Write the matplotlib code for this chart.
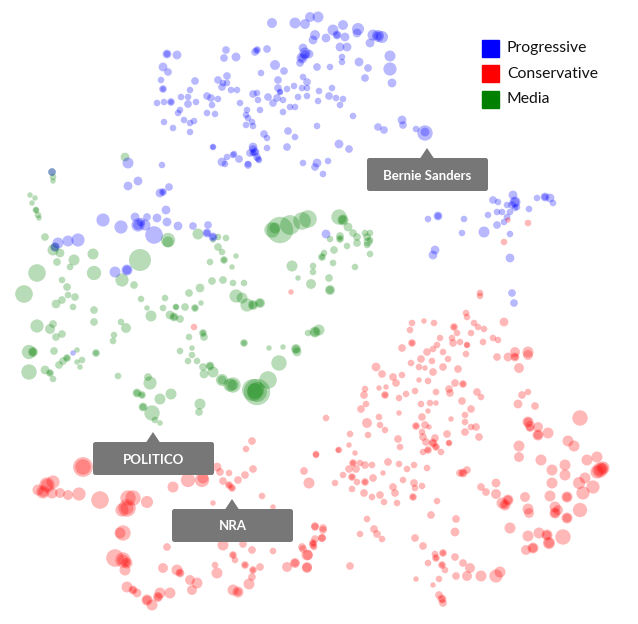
import matplotlib
matplotlib.use("Agg")
import matplotlib.pyplot as plt
from matplotlib.patches import FancyBboxPatch, Polygon, Rectangle
import numpy as np

# embedding coordinates (x, y, weight)
progressive = [
    (272, 23, 4.5), (295, 23, 5), (305, 24, 4.5), (310, 17, 4.5), (318, 17, 5), (315, 35, 4.5),
    (313, 40, 4), (326, 38, 4), (333, 30, 5), (337, 35, 4), (337, 35, 3), (343, 25, 4.5),
    (345, 37, 4), (340, 47, 4), (347, 47, 4), (358, 29, 5.5), (357, 33, 4), (373, 35, 5),
    (378, 36, 5.5), (382, 37, 5.5), (378, 36, 4), (370, 43, 4), (390, 56, 5), (390, 69, 6),
    (392, 83, 4), (365, 78, 3.5), (368, 68, 3.5), (359, 62, 4), (342, 57, 3), (342, 62, 3),
    (330, 67, 3), (317, 67, 3.5), (303, 48, 4), (305, 53, 5), (305, 55, 4), (302, 58, 5),
    (302, 58, 3.5), (309, 54, 4), (300, 63, 3.5), (275, 65, 4.5), (284, 71, 3.5), (261, 73, 3),
    (257, 50, 3.5), (257, 50, 2.5), (255, 52, 3.5), (267, 49, 3.5), (226, 50, 3.5), (224, 58, 3.5),
    (236, 57, 4), (167, 54, 4), (167, 54, 3), (177, 55, 4), (163, 67, 4), (168, 72, 3.5),
    (161, 80, 3), (163, 89, 3.5), (163, 89, 2.5), (195, 81, 3.5), (218, 80, 3.5), (227, 76, 3.5),
    (223, 83, 3), (227, 83, 3), (222, 87, 3.5), (231, 90, 3), (237, 90, 3), (190, 90, 3),
    (181, 97, 3), (188, 97, 3), (157, 103, 3), (164, 102, 3), (171, 102, 3.5), (171, 102, 2.5),
    (188, 104, 3.5), (196, 102, 3), (207, 96, 3.5), (211, 98, 3.5), (218, 99, 3), (212, 105, 3),
    (180, 110, 3), (178, 113, 3), (207, 113, 3), (215, 114, 3), (164, 122, 3), (184, 120, 3),
    (190, 123, 3), (194, 121, 3), (173, 128, 3), (190, 132, 3), (240, 103, 3), (253, 94, 3.5),
    (257, 93, 3), (258, 100, 3), (247, 110, 3), (246, 115, 3), (248, 118, 3), (252, 122, 3),
    (246, 125, 3), (253, 126, 3), (260, 110, 3), (268, 97, 3.5), (273, 103, 3.5), (278, 80, 3.5),
    (278, 88, 3.5), (280, 92, 3), (280, 92, 2.5), (287, 89, 3), (294, 86, 3), (283, 100, 3),
    (277, 98, 3.5), (290, 107, 3), (295, 107, 3), (283, 112, 3), (303, 77, 3), (307, 82, 3.5),
    (302, 88, 3), (307, 88, 3), (298, 97, 3), (307, 96, 3), (319, 91, 3), (318, 101, 3),
    (332, 88, 3), (329, 96, 3.5), (336, 98, 3), (343, 99, 3), (340, 105, 3), (353, 116, 3),
    (317, 126, 3), (288, 131, 3.5), (295, 137, 3), (287, 147, 3.5), (264, 134, 3.5), (267, 138, 3),
    (267, 148, 3), (253, 147, 4), (253, 149, 3.5), (255, 152, 4), (255, 152, 3), (250, 153, 3.5),
    (257, 157, 3.5), (259, 160, 3), (213, 147, 3), (213, 147, 2.5), (222, 162, 4), (227, 157, 3),
    (234, 154, 3), (239, 159, 3.5), (225, 164, 3), (248, 164, 3), (162, 165, 3), (303, 163, 3),
    (317, 163, 4), (315, 167, 3.5), (328, 161, 3), (323, 174, 3), (339, 144, 4), (349, 149, 3.5),
    (378, 127, 3.5), (384, 130, 3.5), (402, 120, 4), (403, 125, 3.5), (416, 129, 3),
    (425, 133, 7), (425, 132, 4), (233, 155, 3), (248, 165, 3.5), (253, 153, 3), (258, 159, 3),
    # right group
    (493, 200, 3.5), (498, 202, 3), (513, 195, 4), (515, 202, 5), (515, 202, 4), (512, 205, 3.5),
    (507, 205, 3), (517, 207, 3), (510, 212, 3), (497, 212, 3), (502, 212, 3), (488, 215, 3),
    (507, 217, 3), (504, 222, 3), (515, 208, 3), (545, 197, 4), (545, 197, 3), (550, 198, 4),
    (553, 203, 3), (537, 198, 3), (529, 209, 3), (497, 225, 3.5), (484, 232, 5), (464, 219, 3),
    (462, 233, 3), (438, 216, 4), (438, 216, 3), (428, 219, 3), (510, 234, 3), (435, 250, 4),
    (433, 255, 4), (510, 258, 4), (512, 293, 3.5), (514, 303, 3.5),
    # inside the media region
    (52, 172, 3.5), (128, 163, 5), (128, 186, 4), (138, 181, 4), (160, 193, 4), (163, 192, 3.5),
    (163, 192, 2.5), (169, 187, 3.5), (166, 210, 4), (103, 220, 6), (121, 227, 6), (135, 217, 4),
    (138, 225, 6), (138, 225, 4.5), (141, 222, 4), (147, 217, 3.5), (145, 225, 5), (154, 235, 8),
    (157, 218, 4), (167, 222, 4), (178, 226, 4), (193, 226, 3.5), (208, 225, 3.5), (207, 233, 4),
    (207, 233, 3), (213, 237, 4), (213, 237, 3), (78, 240, 6), (68, 241, 5), (58, 243, 5),
    (55, 247, 4), (115, 272, 5), (127, 270, 5), (127, 270, 4), (73, 353, 2.5), (326, 234, 4),
]

conservative = [
    (480, 293, 3), (480, 296, 3), (466, 313, 3), (467, 317, 3), (474, 323, 3), (478, 327, 3),
    (484, 329, 3), (454, 327, 3.5), (454, 327, 2.5), (457, 333, 3), (471, 333, 3), (483, 342, 3),
    (493, 338, 3), (498, 340, 3), (504, 322, 4), (412, 323, 3), (424, 321, 2.5), (434, 323, 3),
    (410, 330, 3), (412, 343, 3.5), (412, 343, 2.5), (402, 348, 3.5), (440, 338, 3), (452, 338, 3),
    (453, 343, 3.5), (460, 342, 3), (467, 345, 3), (467, 345, 2.5), (437, 345, 3), (433, 349, 3),
    (427, 352, 3.5), (443, 352, 3), (466, 354, 3), (515, 352, 4.5), (528, 352, 5), (497, 357, 3.5),
    (508, 357, 4), (515, 357, 4), (515, 357, 3), (519, 368, 4.5), (528, 355, 4.5), (421, 359, 3.5),
    (411, 363, 3), (432, 361, 3), (448, 359, 3), (419, 367, 3), (425, 368, 2.5), (433, 372, 3.5),
    (443, 367, 3.5), (458, 369, 3.5), (376, 367, 4), (382, 374, 3.5), (393, 377, 3.5), (402, 375, 3),
    (396, 383, 3.5), (419, 380, 2.5), (428, 381, 3), (455, 383, 3.5), (463, 384, 3.5), (463, 384, 2.5),
    (365, 389, 3), (364, 395, 3.5), (379, 388, 2.5), (386, 387, 2.5), (385, 395, 3.5), (385, 395, 2.5),
    (399, 398, 3), (406, 394, 3), (415, 391, 3), (436, 392, 3), (449, 389, 3.5), (450, 393, 3.5),
    (477, 392, 3.5), (481, 397, 3), (462, 401, 3.5), (421, 404, 3), (430, 403, 3), (436, 403, 2.5),
    (518, 404, 4), (528, 392, 3), (522, 395, 3.5), (535, 406, 3.5), (361, 409, 3.5), (366, 404, 3),
    (399, 413, 2.5), (422, 417, 3.5), (428, 411, 2.5), (471, 409, 3.5), (465, 415, 3), (326, 418, 3),
    (379, 417, 3), (380, 425, 3), (367, 423, 4.5), (385, 430, 3), (416, 426, 3.5), (416, 426, 2.5),
    (425, 425, 3.5), (422, 432, 3), (429, 427, 2.5), (451, 419, 2.5), (465, 422, 3), (471, 427, 3),
    (476, 427, 3.5), (465, 432, 3.5), (447, 434, 3.5), (479, 437, 3.5), (528, 422, 5), (528, 422, 4),
    (530, 426, 4.5), (530, 428, 3.5), (538, 427, 4.5), (538, 435, 5), (538, 435, 4), (548, 433, 5),
    (580, 418, 7), (350, 434, 3), (368, 435, 3), (349, 445, 2.5), (398, 439, 3.5), (400, 447, 3),
    (423, 437, 3.5), (426, 442, 3.5), (435, 438, 3.5), (433, 443, 4), (433, 443, 3), (436, 447, 3.5),
    (436, 447, 2.5), (428, 450, 3.5), (428, 450, 2.5), (423, 452, 3), (449, 443, 3), (449, 443, 2.5),
    (441, 452, 3), (339, 450, 3), (355, 453, 2.5), (316, 455, 3), (519, 446, 5), (519, 457, 4.5),
    (541, 460, 5), (568, 441, 5), (574, 446, 5), (388, 462, 3.5), (353, 463, 3.5), (353, 463, 2.5),
    (360, 463, 3), (349, 469, 3.5), (356, 469, 3.5), (365, 465, 3.5), (372, 465, 3), (352, 477, 3.5),
    (352, 477, 2.5), (343, 475, 3), (365, 482, 3.5), (365, 482, 2.5), (373, 478, 3.5), (357, 482, 3),
    (383, 473, 2.5), (399, 464, 3), (407, 469, 3), (414, 465, 3), (427, 468, 3), (304, 471, 3.5),
    (309, 483, 5), (335, 483, 3), (352, 489, 3), (364, 493, 3.5), (403, 480, 3), (414, 483, 3.5),
    (415, 488, 3), (422, 486, 3), (372, 497, 3), (380, 495, 3.5), (384, 502, 3), (393, 487, 3.5),
    (395, 493, 3.5), (397, 503, 3), (413, 497, 3.5), (413, 497, 2.5), (437, 501, 3), (460, 473, 3.5),
    (463, 473, 4), (463, 473, 3), (467, 470, 3.5), (481, 487, 3.5), (486, 492, 3.5), (496, 483, 4),
    (496, 494, 4.5), (502, 503, 5), (508, 500, 5), (508, 500, 4), (505, 505, 5), (505, 505, 3.5),
    (525, 497, 4.5), (528, 509, 5), (529, 513, 4.5), (552, 470, 5), (565, 465, 5), (565, 475, 5),
    (552, 483, 5), (550, 496, 5), (567, 497, 5), (567, 497, 4), (579, 483, 5.5), (585, 478, 5),
    (583, 493, 6), (593, 487, 6), (587, 460, 5), (597, 457, 5), (600, 470, 7), (600, 470, 5.5),
    (603, 468, 6), (603, 468, 4.5), (597, 472, 6), (555, 507, 5), (555, 513, 5), (555, 513, 4),
    (567, 518, 5), (567, 518, 4), (558, 510, 4.5), (580, 510, 6.5), (510, 528, 5), (528, 536, 5),
    (539, 533, 5), (547, 535, 5), (547, 535, 4), (549, 543, 5.5), (549, 543, 4.5), (563, 537, 7),
    (533, 548, 5), (533, 548, 4), (526, 550, 4.5), (367, 519, 3), (360, 534, 3), (374, 529, 3.5),
    (377, 534, 3.5), (382, 539, 3), (431, 515, 3.5), (456, 519, 3.5), (455, 532, 4), (415, 538, 3.5),
    (423, 546, 3.5), (428, 563, 3), (435, 554, 3), (443, 553, 3.5), (443, 553, 2.5), (436, 558, 3.5),
    (436, 558, 2.5), (442, 565, 3.5), (442, 565, 2.5), (445, 570, 3), (455, 557, 3.5), (463, 563, 3.5),
    (470, 568, 4.5), (439, 579, 3), (433, 585, 2.5), (456, 576, 3.5), (467, 576, 4.5), (481, 576, 5),
    (496, 576, 6), (500, 572, 5), (416, 579, 2.5), (350, 566, 3.5), (439, 595, 3.5), (442, 599, 4),
    (442, 599, 3), (443, 603, 3.5), (315, 527, 3.5), (323, 530, 3.5), (322, 538, 3.5), (313, 543, 3.5),
    (313, 543, 2.5), (314, 547, 3), (307, 555, 5), (307, 567, 4.5), (302, 547, 3.5),
    # left arc
    (83, 467, 9), (83, 467, 7), (47, 485, 7), (47, 485, 5.5), (43, 492, 6), (43, 492, 4.5),
    (53, 482, 6), (38, 490, 5), (52, 493, 5), (60, 493, 4.5), (68, 495, 4.5), (79, 494, 6),
    (100, 500, 8), (128, 498, 7), (133, 498, 7), (127, 508, 8), (127, 508, 6), (122, 510, 6),
    (147, 502, 5.5), (123, 533, 7), (120, 533, 5), (115, 558, 8), (123, 560, 7), (123, 560, 5),
    (127, 563, 5), (127, 563, 3.5), (125, 570, 5), (127, 587, 5), (133, 590, 4), (133, 590, 3),
    (137, 593, 4), (147, 600, 5), (147, 600, 4), (152, 605, 5), (160, 593, 5), (170, 593, 5),
    (158, 597, 4.5), (158, 597, 3.5), (163, 568, 4.5), (177, 570, 5), (180, 573, 4), (180, 573, 3),
    (167, 547, 3.5), (190, 580, 4.5), (197, 583, 5), (192, 590, 4.5), (173, 487, 5), (188, 480, 6.5),
    (202, 480, 6.5), (203, 478, 5), (217, 467, 4), (220, 472, 3.5), (229, 473, 3), (223, 481, 3.5),
    (229, 485, 3.5), (229, 485, 2.5), (232, 488, 3.5), (232, 488, 2.5), (238, 480, 3.5), (245, 475, 3.5),
    (253, 469, 3.5), (246, 449, 3), (252, 441, 3.5), (213, 503, 2.5), (262, 496, 3), (273, 507, 2.5),
    (316, 454, 3), (338, 450, 2.5), (223, 545, 5), (243, 544, 3.5), (252, 550, 3.5), (233, 555, 3.5),
    (233, 555, 2.5), (235, 560, 3), (245, 565, 3.5), (245, 565, 2.5), (253, 570, 3.5), (253, 570, 2.5),
    (260, 567, 3.5), (252, 577, 3.5), (273, 551, 3), (215, 565, 3), (217, 573, 5), (233, 590, 5),
    (238, 592, 5), (238, 592, 3.5), (249, 584, 5), (287, 567, 4.5), (295, 563, 4.5), (295, 563, 3.5),
    (307, 568, 4.5), (303, 549, 3.5), (308, 555, 4.5), (313, 545, 3.5), (315, 539, 3.5), (322, 538, 3.5),
    (315, 526, 3.5), (323, 528, 3.5),
    # strays near the other groups
    (291, 292, 2.5), (194, 327, 3), (508, 220, 2.5), (528, 223, 3), (504, 242, 3),
]

media = [
    (52, 172, 3.5), (53, 177, 3), (53, 181, 2.5), (125, 157, 4), (30, 195, 2.5), (35, 198, 2.5),
    (32, 203, 2.5), (36, 210, 3), (36, 210, 2.5), (38, 215, 3), (39, 218, 2.5), (45, 237, 3.5),
    (53, 250, 5), (55, 247, 4), (60, 253, 4), (57, 262, 3.5), (74, 260, 5), (70, 267, 3),
    (93, 254, 5), (37, 273, 8), (94, 273, 6.5), (122, 280, 6), (140, 260, 10), (134, 285, 3.5),
    (168, 240, 6.5), (168, 242, 5), (198, 234, 5), (218, 237, 3), (226, 238, 3), (218, 247, 3.5),
    (222, 252, 3), (224, 260, 3.5), (224, 260, 2.5), (210, 262, 3), (236, 256, 2.5), (232, 267, 2.5),
    (213, 240, 2.5), (62, 280, 3), (67, 287, 3.5), (68, 295, 3), (75, 297, 3.5), (73, 307, 3),
    (62, 300, 3.5), (56, 304, 4), (24, 294, 8), (141, 299, 3), (147, 308, 2.5), (151, 316, 5),
    (165, 298, 3), (163, 308, 3), (176, 307, 3), (176, 307, 2.5), (185, 307, 3.5), (195, 308, 3.5),
    (195, 308, 2.5), (201, 303, 2.5), (170, 315, 4), (174, 317, 4), (174, 317, 3), (180, 319, 3.5),
    (189, 293, 3.5), (200, 288, 4), (212, 281, 3.5), (223, 280, 3.5), (233, 283, 3), (244, 283, 3),
    (236, 296, 6), (242, 298, 5), (247, 305, 6), (253, 305, 4.5), (253, 305, 3.5), (260, 303, 4.5),
    (260, 303, 3.5), (37, 326, 6), (50, 329, 4.5), (53, 324, 3.5), (56, 337, 3.5), (62, 334, 3.5),
    (94, 310, 3.5), (94, 322, 3.5), (121, 322, 3), (126, 328, 4.5), (114, 335, 3), (113, 341, 3),
    (29, 352, 6.5), (33, 352, 4.5), (33, 352, 3.5), (54, 351, 3.5), (67, 358, 3.5), (67, 358, 2.5),
    (63, 361, 3.5), (59, 365, 3.5), (77, 350, 2.5), (77, 362, 2.5), (82, 360, 3), (80, 367, 2.5),
    (96, 353, 3.5), (96, 353, 2.5), (29, 372, 7), (45, 370, 4), (50, 373, 3.5), (50, 373, 2.5),
    (53, 379, 3), (118, 376, 3), (148, 377, 3.5), (150, 383, 6), (137, 393, 4), (137, 393, 3),
    (142, 395, 3.5), (142, 395, 2.5), (143, 407, 4), (143, 407, 3), (152, 413, 7), (160, 399, 5),
    (171, 394, 5), (200, 404, 5), (199, 412, 3.5), (160, 423, 2.5), (155, 420, 3), (180, 351, 3),
    (189, 337, 3), (192, 348, 2.5), (188, 361, 3), (197, 361, 3), (192, 355, 3), (203, 333, 3.5),
    (203, 333, 2.5), (204, 337, 3.5), (244, 343, 3.5), (244, 343, 2.5), (269, 348, 2.5),
    (283, 347, 2.5), (296, 349, 4.5), (296, 349, 3.5), (297, 352, 4), (279, 363, 7), (268, 380, 8),
    (257, 392, 12), (257, 392, 9), (253, 390, 10), (255, 391, 7), (233, 385, 7), (233, 385, 5),
    (230, 385, 6), (222, 380, 5.5), (222, 380, 4), (213, 372, 5), (210, 366, 4), (210, 366, 3),
    (204, 374, 4), (203, 367, 3.5), (315, 332, 5), (315, 332, 4), (319, 330, 5), (308, 333, 3),
    (280, 230, 12), (290, 225, 9), (302, 221, 8), (308, 219, 8), (272, 230, 7), (275, 228, 5),
    (339, 217, 7), (343, 220, 5), (343, 220, 4), (348, 227, 4), (340, 236, 3.5), (353, 233, 3.5),
    (357, 237, 3.5), (365, 233, 3), (370, 233, 3), (368, 242, 4), (347, 246, 3), (340, 239, 3.5),
    (340, 239, 2.5), (330, 239, 3), (357, 243, 3.5), (334, 250, 3.5), (324, 253, 3), (322, 257, 3.5),
    (322, 257, 2.5), (333, 263, 3), (355, 267, 3), (313, 266, 3), (313, 272, 3), (292, 266, 5),
    (298, 278, 2.5), (311, 284, 4.5), (329, 278, 3.5), (330, 290, 4.5), (330, 290, 3.5), (370, 254, 3),
    (367, 237, 3.5), (370, 240, 3), (367, 245, 3),
]

legend_labels = ["Progressive", "Conservative", "Media"]
legend_colors = ["#0000ff", "#ff0000", "#008000"]
callouts = [("Bernie Sanders", 427, 148), ("POLITICO", 153, 432), ("NRA", 232, 499)]

plt.rcParams['font.family'] = ['Lato', 'DejaVu Sans']

W, H = 638, 624
fig = plt.figure(figsize=(W / 100, H / 100), dpi=100)
ax = fig.add_axes([0, 0, 1, 1])
ax.set_xlim(0, W)
ax.set_ylim(H, 0)
ax.axis('off')

px_to_pt = 72 / 100
for pts, col in zip([media, progressive, conservative], ["#008000", "#0000ff", "#ff0000"]):
    arr = np.array(pts, dtype=float)
    sizes = (2 * 1.1 * arr[:, 2] * px_to_pt) ** 2
    ax.scatter(arr[:, 0], arr[:, 1], s=sizes, c=col, alpha=0.28, linewidths=0, zorder=2)

# legend
for i, (lab, col) in enumerate(zip(legend_labels, legend_colors)):
    yc = 48 + i * 25.5
    ax.add_patch(Rectangle((482, yc - 8.5), 17, 17, color=col, zorder=5))
    ax.text(507, yc, lab, fontsize=11.3, va='center', ha='left', color='#111111', zorder=5)

# callout boxes
box_left = {"Bernie Sanders": 367, "POLITICO": 93, "NRA": 172}
for text, tx, ty in callouts:
    left = box_left[text]
    w, h = 121, 33
    top = ty + 10
    ax.add_patch(FancyBboxPatch((left, top), w, h, boxstyle="round,pad=0,rounding_size=2.5",
                                fc='#777777', ec='none', zorder=6))
    ax.add_patch(Polygon([(tx - 7, top + 0.5), (tx, ty), (tx + 7, top + 0.5)],
                         closed=True, fc='#777777', ec='none', zorder=6))
    ax.text(left + w / 2, top + h / 2 + 1, text, color='white', fontsize=9.5, fontweight='bold',
            ha='center', va='center', zorder=7)

fig.savefig("out.png", dpi=100)
